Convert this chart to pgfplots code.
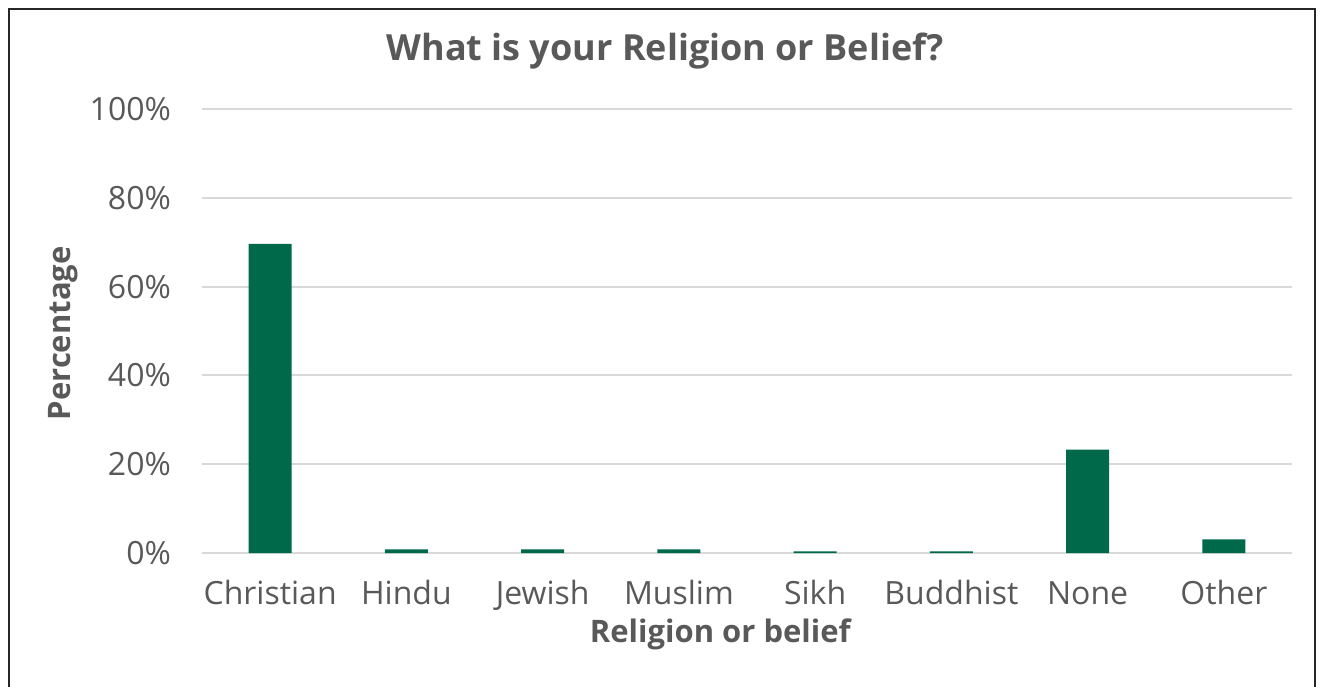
\documentclass[border=0pt]{standalone}
\usepackage{pgfplots}
\pgfplotsset{compat=1.18}
\usepackage{fontspec}
\setmainfont{Open Sans}
\definecolor{bargreen}{HTML}{00694A}
\definecolor{txtgray}{HTML}{595959}
\definecolor{gridgray}{HTML}{D9D9D9}

\begin{document}
\begin{tikzpicture}
  % page and frame (0.5pt per reference pixel)
  \path[use as bounding box] (0,0) rectangle (660.5pt,343pt);
  \draw[line width=1pt,black!85] (4.5pt,-1pt) -- (4.5pt,338.5pt) -- (657.5pt,338.5pt) -- (657.5pt,-1pt);

  \begin{axis}[
      at={(101pt,66.5pt)}, anchor=south west,
      scale only axis, width=545pt, height=222pt,
      ybar, bar width=0.315,
      xmin=-0.5, xmax=7.5, ymin=0, ymax=100,
      xtick=data,
      xticklabels={Christian,Hindu,Jewish,Muslim,Sikh,Buddhist,None,Other},
      ytick={0,20,40,60,80,100},
      yticklabel={\pgfmathprintnumber{\tick}\%},
      /pgf/number format/assume math mode=true,
      ymajorgrids, grid style={gridgray,line width=1pt},
      axis line style={draw=none},
      major tick length=0pt,
      tick label style={font=\fontsize{16}{18}\selectfont, text=txtgray},
      xticklabel style={yshift=-10pt, text height=12pt, text depth=0pt},
      yticklabel style={xshift=-12pt},
      xlabel={\textbf{Religion or belief}},
      ylabel={\textbf{Percentage}},
      label style={font=\fontsize{15.5}{17}\selectfont, text=txtgray},
      xlabel style={at={(axis description cs:0.4762,0)}, anchor=center, yshift=-40.5pt},
      ylabel style={at={(axis description cs:-0.1275,0.4949)}, anchor=center},
      title={\textbf{What is your Religion or Belief?}},
      title style={font=\fontsize{18}{20}\selectfont, text=txtgray, at={(axis description cs:0.4248,1)}, anchor=center, yshift=23pt},
      clip=false,
    ]
    \addplot[fill=bargreen, draw=none] coordinates {
      (0,69.6) (1,0.8) (2,0.8) (3,0.8) (4,0.35) (5,0.35) (6,23.3) (7,3.05)
    };
  \end{axis}
\end{tikzpicture}
\end{document}
